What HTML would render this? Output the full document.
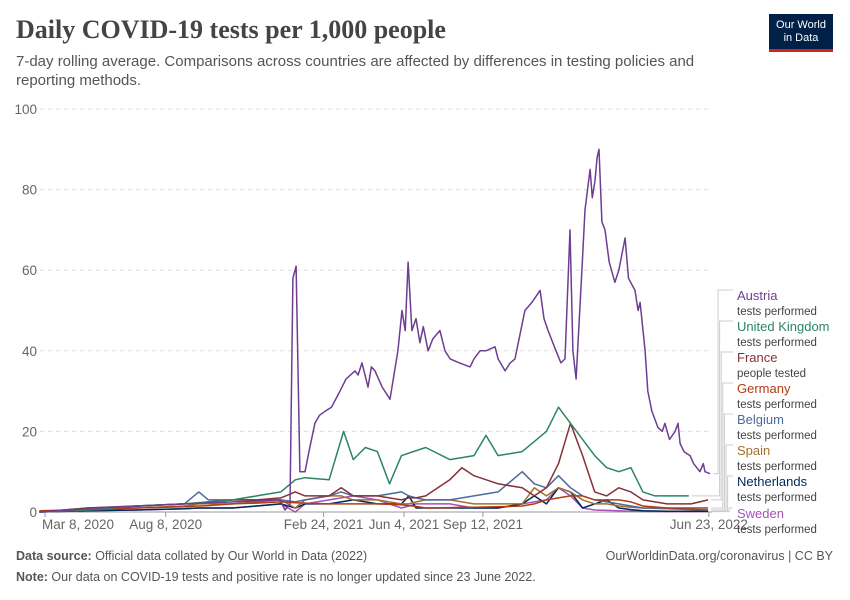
<!DOCTYPE html>
<html><head><meta charset="utf-8"><style>
body{margin:0;background:#fff;font-family:"Liberation Sans",sans-serif}
#wrap{position:relative;width:850px;height:600px;overflow:hidden}
h1{position:absolute;left:16px;top:15px;margin:0;font-family:"Liberation Serif",serif;font-weight:bold;font-size:26px;color:#444}
.sub{position:absolute;left:16px;top:52px;width:700px;font-size:15px;line-height:19px;color:#555}
.logo{position:absolute;left:769px;top:14px;width:64px;height:38px;background:#002147;color:#fff;font-size:11px;line-height:13px;text-align:center;padding-top:5px;box-sizing:border-box;border-bottom:3px solid #ce261e}
.foot{position:absolute;left:16px;font-size:12.5px;color:#555}
</style></head><body><div id="wrap">
<h1>Daily COVID-19 tests per 1,000 people</h1>
<div class="sub">7-day rolling average. Comparisons across countries are affected by differences in testing policies and reporting methods.</div>
<div class="logo">Our World<br>in Data</div>
<svg id="svg" width="850" height="600" style="position:absolute;left:0;top:0"></svg>
<div class="foot" style="top:549px"><b>Data source:</b> Official data collated by Our World in Data (2022)</div>
<div class="foot" style="top:549px;left:auto;right:17px">OurWorldinData.org/coronavirus | CC BY</div>
<div class="foot" style="top:570px"><b>Note:</b> Our data on COVID-19 tests and positive rate is no longer updated since 23 June 2022.</div>
</div>
<script>
// months since 2020-01-01
const yTicks=[0,20,40,60,80,100];
const xTickMonths=[2.23,7.23,13.77,17.1,20.37,29.73];
const xTickLabels=["Mar 8, 2020","Aug 8, 2020","Feb 24, 2021","Jun 4, 2021","Sep 12, 2021","Jun 23, 2022"];
const austriaMonths=[2,4.51,8,11.96,12.17,12.38,12.5,12.63,12.79,13.0,13.2,13.41,13.6,13.83,14.1,14.45,14.7,15.07,15.2,15.36,15.61,15.75,15.9,16.2,16.52,16.85,17.02,17.15,17.27,17.43,17.6,17.76,17.9,18.1,18.3,18.59,18.8,19.01,19.4,19.84,20.0,20.25,20.5,20.87,21.0,21.29,21.5,21.7,22.11,22.4,22.74,22.9,23.07,23.4,23.6,23.77,23.98,24.1,24.23,24.47,24.6,24.81,24.9,25.01,25.1,25.18,25.3,25.43,25.6,25.84,26.0,26.26,26.4,26.67,26.8,26.88,27.09,27.2,27.37,27.62,27.8,27.91,28.1,28.33,28.45,28.54,28.7,28.95,29.1,29.36,29.5,29.57,29.78];
const austriaValues=[0,1,2,3,0.5,2,58,61,10,10,16,22,24,25,26,30,33,35,34,37,31,36,35,31,28,40,50,45,62,45,48,42,46,40,43,45,40,38,37,36,38,40,40,41,38,35,37,38,50,52,55,48,45,40,37,38,70,40,33,60,75,85,78,82,88,90,72,70,62,57,60,68,58,55,50,52,40,30,25,21,20,22,18,20,22,17,15,14,12,10,12,10,9.5];
const ukMonths=[2,4,6,8,10,11,12,12.6,13,14,14.6,15,15.5,16,16.5,17,18,19,20,20.5,21,22,23,23.5,24,25,25.5,26,26.5,27,27.5,28.9];
const ukValues=[0,0.5,1.5,2,3,4,5,8,8.5,8,20,13,16,15,7,14,16,13,14,19,14,15,20,26,22,14,11,10,11,5,4,4];
const grid=[2,4,6,8,8.6,9,10,11,12,12.6,13,14,14.5,15,16,17,17.3,17.6,18,19,19.5,20,21,22,22.5,23,23.5,24,24.5,25,25.5,26,26.5,27,28,29,29.7];
const franceValues=[0,1,1.5,2,2.2,2.5,3,3,3.5,5,4,4,6,4,4,3,3.5,3.5,4,8,11,9,7,6,4,6,12,22,14,5,4,6,5,3,2,2,3];
const germanyValues=[0.3,0.6,1,1.3,1.5,1.6,2,2.2,2.5,2.3,2.2,2,2,2,2,1.8,1.6,1.4,1,1.1,1.2,1.2,1.3,1.5,2,3,3.5,4,4,3,3,3,2.5,1.5,1,1,1];
const belgiumValues=[0,1,1.5,2,5,3,3,3,3,2.5,3,4,5,4,4,5,4,3.5,3,3,3.5,4,5,10,7,6,9,6,4,3,2.5,2,1.5,1,1,0.7,0.5];
const spainValues=[0,0.5,1,1.5,2,2,2,2.5,3,1,3,4,4,3,3,2,2,2.5,3,3,2.5,2,2,2,6,4,6,5,3,2,2,1.5,1.2,1,0.8,0.6,0.5];
const netherlandsValues=[0,0.3,0.5,0.8,1,1,1,1.5,2,1,2,2,2.5,3,2,2,4,1,1,1,1,1,1,2,4,2,6,5,1,2,3,1,0.6,0.3,0.2,0.2,0.2];
const swedenValues=[0,0.3,0.5,0.8,1,1,1,1.5,2,0,2,3,3.5,4,3,1,1.5,2,2,2,1.5,1,1,2,2.5,3,6,4,1,0.5,0.4,0.3,0.2,0.2,0.1,0.1,0.1];
const series=[
 {name:"Austria",sub:"tests performed",color:"#6D3E91",m:austriaMonths,v:austriaValues,ly:295},
 {name:"United Kingdom",sub:"tests performed",color:"#2C8465",m:ukMonths,v:ukValues,ly:326},
 {name:"France",sub:"people tested",color:"#883039",m:grid,v:franceValues,ly:357},
 {name:"Germany",sub:"tests performed",color:"#B43B12",m:grid,v:germanyValues,ly:388},
 {name:"Belgium",sub:"tests performed",color:"#4C6A9C",m:grid,v:belgiumValues,ly:419},
 {name:"Spain",sub:"tests performed",color:"#A2712B",m:grid,v:spainValues,ly:450},
 {name:"Netherlands",sub:"tests performed",color:"#00295B",m:grid,v:netherlandsValues,ly:481},
 {name:"Sweden",sub:"tests performed",color:"#A652BA",m:grid,v:swedenValues,ly:513}];
const X=m=>45+(m-2.23)*24.14, Y=v=>512-v*4.03;
const svg=document.getElementById('svg'),NS="http://www.w3.org/2000/svg";
function mk(t,a,txt){const e=document.createElementNS(NS,t);for(const k in a)e.setAttribute(k,a[k]);if(txt!=null)e.textContent=txt;svg.appendChild(e);return e;}
yTicks.forEach(t=>{
 const l=mk('line',{x1:40,x2:712,y1:Y(t),y2:Y(t),stroke:t?'#ddd':'#999','stroke-dasharray':t?'4,4':''});
 
 
 const tx=mk('text',{x:37,y:Y(t)+5,'text-anchor':'end','font-size':13.5,fill:'#666','font-family':'Liberation Sans'},t);
 
 
});
xTickMonths.forEach((m,i)=>{
 const x=X(m);
 const l=mk('line',{x1:x,x2:x,y1:512,y2:517,stroke:'#999'});
 
 
 const tx=mk('text',{x:i==0?x-3:x,y:529,'text-anchor':i==0?'start':'middle','font-size':13.5,fill:'#666','font-family':'Liberation Sans'},xTickLabels[i]);
 
 
});
series.slice().reverse().forEach(s=>{
 const d=s.m.map((m,i)=>(i?'L':'M')+X(m).toFixed(1)+','+Y(s.v[i]).toFixed(1)).join('');
 const p=mk('path',{d:d,fill:'none',stroke:s.color,'stroke-width':1.5,'stroke-linejoin':'round'});
 
 
});
series.forEach((s,i)=>{
 const ex=X(s.m[s.m.length-1])+3, ey=Y(s.v[s.v.length-1]), vx=718+i*1.6, ty=s.ly-5;
 const c=mk('polyline',{points:`${ex},${ey} ${vx},${ey} ${vx},${ty} 733,${ty}`,fill:'none',stroke:'#ccc'});
 
 
 const t=mk('text',{x:737,y:s.ly+5,'font-size':13,fill:s.color,'font-family':'Liberation Sans'},s.name);
 
 
 const t2=mk('text',{x:737,y:s.ly+20,'font-size':11.5,fill:'#444','font-family':'Liberation Sans'},s.sub);
 
 
});
</script></body></html>
